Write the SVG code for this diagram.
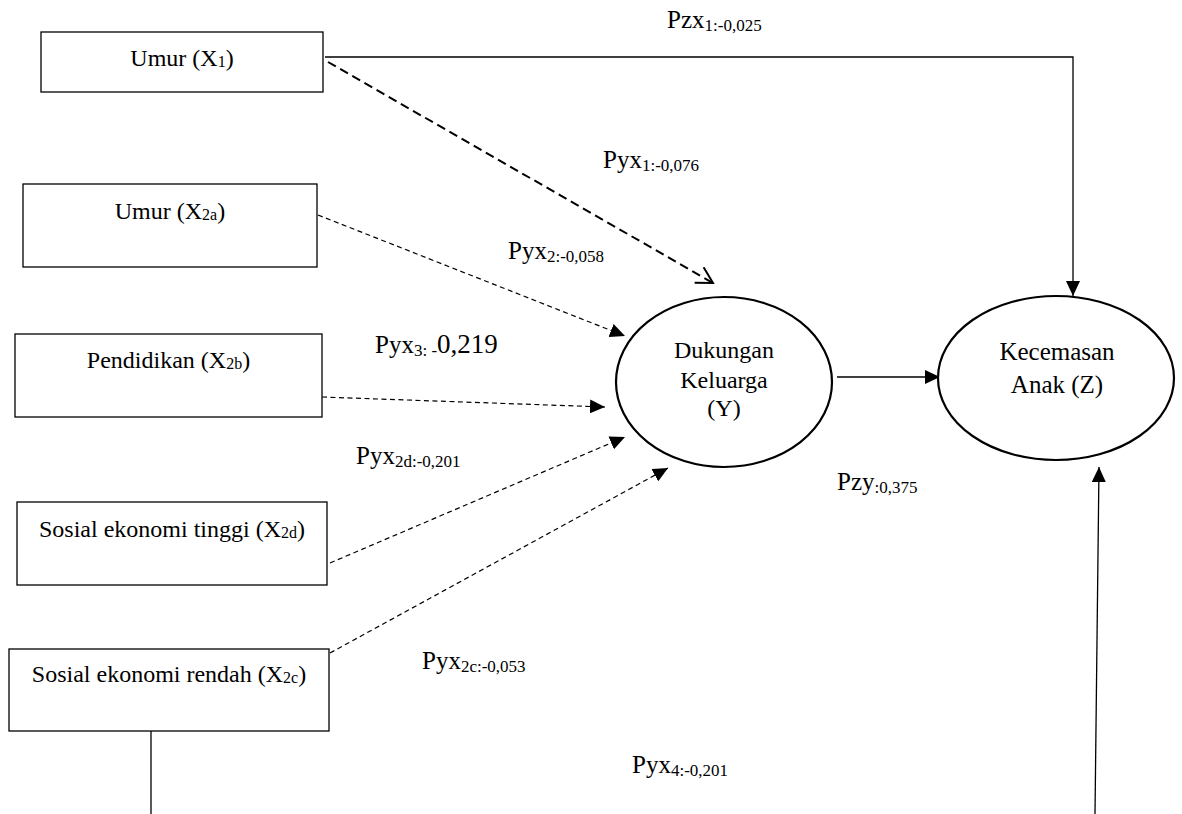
<svg xmlns="http://www.w3.org/2000/svg" width="1182" height="814" viewBox="0 0 1182 814">
  <style>
    text { font-family: "Liberation Serif", "Times New Roman", serif; fill: #000; }
    .box { fill: #fff; stroke: #000; stroke-width: 1.3; }
    .ell { fill: #fff; stroke: #000; stroke-width: 2.2; }
    .bt { font-size: 24px; text-anchor: middle; }
    .bs { font-size: 16px; }
    .lbl { font-size: 25px; }
    .ls { font-size: 17px; }
    .solid { fill: none; stroke: #000; stroke-width: 1.3; }
    .dthin { fill: none; stroke: #000; stroke-width: 1.2; stroke-dasharray: 5 3.5; }
    .dthick { fill: none; stroke: #000; stroke-width: 2; stroke-dasharray: 9 5; }
  </style>
  <defs>
    <marker id="tri" markerUnits="userSpaceOnUse" markerWidth="15" markerHeight="14" refX="15" refY="7" orient="auto">
      <path d="M0,0 L15,7 L0,14 z" fill="#000"/>
    </marker>
    <marker id="open" markerUnits="userSpaceOnUse" markerWidth="21" markerHeight="21" refX="18" refY="10" orient="auto">
      <path d="M2,1 L18,10 L2,19" fill="none" stroke="#000" stroke-width="2"/>
    </marker>
  </defs>

  <g id="connectors">
    <path class="solid" d="M325,57 H1073 V296" marker-end="url(#tri)"/>
    <path class="dthick" d="M328,62 L713,283" marker-end="url(#open)"/>
    <path class="dthin" d="M318,215 L625,336" marker-end="url(#tri)"/>
    <path class="dthin" d="M322,397 L605,407" marker-end="url(#tri)"/>
    <path class="dthin" d="M330,563 L625,437" marker-end="url(#tri)"/>
    <path class="dthin" d="M330,653 L668,468" marker-end="url(#tri)"/>
    <path class="solid" d="M837,377 L940,377" marker-end="url(#tri)"/>
    <path class="solid" d="M1095,814 L1099,467" marker-end="url(#tri)"/>
    <path class="solid" d="M151,731 V814"/>
  </g>

  <g id="x1">
    <rect class="box" x="41" y="32" width="282" height="60"/>
    <text class="bt" x="182" y="66">Umur (X<tspan class="bs" dy="1">1</tspan><tspan dy="-1">)</tspan></text>
  </g>
  <g id="x2a">
    <rect class="box" x="23" y="184" width="294" height="83"/>
    <text class="bt" x="170" y="219">Umur (X<tspan class="bs" dy="1">2a</tspan><tspan dy="-1">)</tspan></text>
  </g>
  <g id="x2b">
    <rect class="box" x="15" y="334" width="307" height="83"/>
    <text class="bt" x="168.5" y="368">Pendidikan (X<tspan class="bs" dy="1">2b</tspan><tspan dy="-1">)</tspan></text>
  </g>
  <g id="x2d">
    <rect class="box" x="17" y="502" width="310" height="83"/>
    <text class="bt" x="172" y="537">Sosial ekonomi tinggi (X<tspan class="bs" dy="1">2d</tspan><tspan dy="-1">)</tspan></text>
  </g>
  <g id="x2c">
    <rect class="box" x="9" y="649" width="320" height="82"/>
    <text class="bt" x="169" y="682">Sosial ekonomi rendah (X<tspan class="bs" dy="1">2c</tspan><tspan dy="-1">)</tspan></text>
  </g>
  <g id="y">
    <ellipse class="ell" cx="724" cy="382" rx="108" ry="85"/>
    <text class="bt" x="724" y="358">Dukungan</text>
    <text class="bt" x="724" y="388">Keluarga</text>
    <text class="bt" x="724" y="416">(Y)</text>
  </g>
  <g id="z">
    <ellipse class="ell" cx="1056" cy="378" rx="118" ry="82"/>
    <text class="bt" x="1057" y="360" style="font-size:25px">Kecemasan</text>
    <text class="bt" x="1057" y="393" style="font-size:25px">Anak (Z)</text>
  </g>

  <g id="labels">
    <text class="lbl" x="667" y="28">Pzx<tspan class="ls" dy="3">1:-0,025</tspan></text>
    <text class="lbl" x="603" y="168">Pyx<tspan class="ls" dy="3">1:-0,076</tspan></text>
    <text class="lbl" x="508" y="259">Pyx<tspan class="ls" dy="3">2:-0,058</tspan></text>
    <text class="lbl" x="375" y="353">Pyx<tspan class="ls" dy="3">3: -</tspan><tspan dy="-3" style="font-size:27px">0,219</tspan></text>
    <text class="lbl" x="356" y="464">Pyx<tspan class="ls" dy="3">2d:-0,201</tspan></text>
    <text class="lbl" x="837" y="490">Pzy<tspan class="ls" dy="3">:0,375</tspan></text>
    <text class="lbl" x="422" y="669">Pyx<tspan class="ls" dy="3">2c:-0,053</tspan></text>
    <text class="lbl" x="632" y="773">Pyx<tspan class="ls" dy="3">4:-0,201</tspan></text>
  </g>
</svg>
